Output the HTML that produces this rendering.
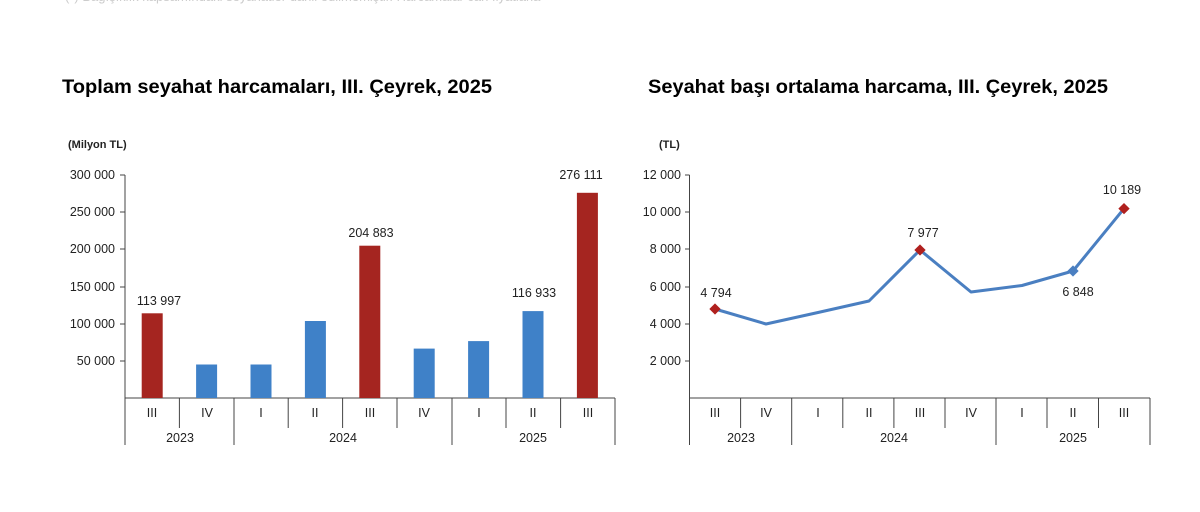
<!DOCTYPE html>
<html><head><meta charset="utf-8"><style>
body{margin:0;background:#fff;width:1200px;height:507px;overflow:hidden;font-family:"Liberation Sans",Arial,sans-serif}
svg text{font-family:"Liberation Sans",Arial,sans-serif}
</style></head><body>
<svg width="1200" height="507" xmlns="http://www.w3.org/2000/svg">
<text x="65" y="1" font-size="13" fill="#ccc">(*) Bağışıklık kapsamındaki seyahatler dahil edilmemiştir. Harcamalar cari fiyatlarla</text>
<text x="62" y="93" font-size="19.5" font-weight="bold" fill="#000" textLength="430" lengthAdjust="spacingAndGlyphs">Toplam seyahat harcamaları, III. Çeyrek, 2025</text>
<text x="648" y="93" font-size="19.5" font-weight="bold" fill="#000" textLength="460" lengthAdjust="spacingAndGlyphs">Seyahat başı ortalama harcama, III. Çeyrek, 2025</text>
<!-- left chart -->
<text x="68" y="148" font-size="11" font-weight="bold" fill="#222">(Milyon TL)</text>
<g font-size="12.5" fill="#222" text-anchor="end">
<text x="115" y="179">300 000</text><text x="115" y="216">250 000</text><text x="115" y="253">200 000</text>
<text x="115" y="291">150 000</text><text x="115" y="328">100 000</text><text x="115" y="365">50 000</text>
</g>
<g stroke="#444" stroke-width="1">
<line x1="125" y1="175" x2="125" y2="445"/><line x1="125" y1="398" x2="615" y2="398"/>
<line x1="120" y1="175" x2="125" y2="175"/><line x1="120" y1="212" x2="125" y2="212"/><line x1="120" y1="249" x2="125" y2="249"/>
<line x1="120" y1="287" x2="125" y2="287"/><line x1="120" y1="324" x2="125" y2="324"/><line x1="120" y1="361" x2="125" y2="361"/>
<line x1="179.4" y1="398" x2="179.4" y2="428"/><line x1="234" y1="398" x2="234" y2="445"/>
<line x1="288.2" y1="398" x2="288.2" y2="428"/><line x1="342.6" y1="398" x2="342.6" y2="428"/>
<line x1="397" y1="398" x2="397" y2="428"/><line x1="452" y1="398" x2="452" y2="445"/>
<line x1="506" y1="398" x2="506" y2="428"/><line x1="560.6" y1="398" x2="560.6" y2="428"/>
<line x1="615" y1="398" x2="615" y2="445"/>
</g>
<g>
<rect x="141.7" y="313.3" width="21" height="84.7" fill="#a52520"/>
<rect x="196.1" y="364.5" width="21" height="33.5" fill="#3f81c8"/>
<rect x="250.5" y="364.5" width="21" height="33.5" fill="#3f81c8"/>
<rect x="304.9" y="321" width="21" height="77" fill="#3f81c8"/>
<rect x="359.3" y="245.7" width="21" height="152.3" fill="#a52520"/>
<rect x="413.7" y="348.6" width="21" height="49.4" fill="#3f81c8"/>
<rect x="468.1" y="341.1" width="21" height="56.9" fill="#3f81c8"/>
<rect x="522.5" y="311.1" width="21" height="86.9" fill="#3f81c8"/>
<rect x="576.9" y="192.8" width="21" height="205.2" fill="#a52520"/>
</g>
<g font-size="12.5" fill="#222" text-anchor="middle">
<text x="159" y="305">113 997</text><text x="371" y="237">204 883</text>
<text x="534" y="297">116 933</text><text x="581" y="179">276 111</text>
<text x="152" y="417">III</text><text x="207" y="417">IV</text><text x="261" y="417">I</text><text x="315" y="417">II</text>
<text x="370" y="417">III</text><text x="424" y="417">IV</text><text x="479" y="417">I</text><text x="533" y="417">II</text><text x="588" y="417">III</text>
<text x="180" y="442">2023</text><text x="343" y="442">2024</text><text x="533" y="442">2025</text>
</g>
<!-- right chart -->
<text x="659" y="148" font-size="11" font-weight="bold" fill="#222">(TL)</text>
<g font-size="12.5" fill="#222" text-anchor="end">
<text x="681" y="179">12 000</text><text x="681" y="216">10 000</text><text x="681" y="253">8 000</text>
<text x="681" y="291">6 000</text><text x="681" y="328">4 000</text><text x="681" y="365">2 000</text>
</g>
<g stroke="#444" stroke-width="1">
<line x1="689.5" y1="175" x2="689.5" y2="445"/><line x1="689.5" y1="398" x2="1150" y2="398"/>
<line x1="685" y1="175" x2="689.5" y2="175"/><line x1="685" y1="212" x2="689.5" y2="212"/><line x1="685" y1="249" x2="689.5" y2="249"/>
<line x1="685" y1="287" x2="689.5" y2="287"/><line x1="685" y1="324" x2="689.5" y2="324"/><line x1="685" y1="361" x2="689.5" y2="361"/>
<line x1="740.6" y1="398" x2="740.6" y2="428"/><line x1="791.7" y1="398" x2="791.7" y2="445"/>
<line x1="842.8" y1="398" x2="842.8" y2="428"/><line x1="893.9" y1="398" x2="893.9" y2="428"/>
<line x1="945" y1="398" x2="945" y2="428"/><line x1="996" y1="398" x2="996" y2="445"/>
<line x1="1047" y1="398" x2="1047" y2="428"/><line x1="1098.5" y1="398" x2="1098.5" y2="428"/>
<line x1="1150" y1="398" x2="1150" y2="445"/>
</g>
<polyline fill="none" stroke="#4a7fc1" stroke-width="3" stroke-linejoin="round" points="715,309 766,324 818,312.5 869,301 920,250 971,292 1022,285.5 1073,271 1124,208.6"/>
<g fill="#b0201e">
<rect x="711" y="305" width="8" height="8" transform="rotate(45 715 309)"/>
<rect x="916" y="246" width="8" height="8" transform="rotate(45 920 250)"/>
<rect x="1120" y="204.6" width="8" height="8" transform="rotate(45 1124 208.6)"/>
</g>
<rect x="1069" y="267" width="8" height="8" fill="#4a7fc1" transform="rotate(45 1073 271)"/>
<g font-size="12.5" fill="#222" text-anchor="middle">
<text x="716" y="297">4 794</text><text x="923" y="237">7 977</text>
<text x="1078" y="296">6 848</text><text x="1122" y="194">10 189</text>
<text x="715" y="417">III</text><text x="766" y="417">IV</text><text x="818" y="417">I</text><text x="869" y="417">II</text>
<text x="920" y="417">III</text><text x="971" y="417">IV</text><text x="1022" y="417">I</text><text x="1073" y="417">II</text><text x="1124" y="417">III</text>
<text x="741" y="442">2023</text><text x="894" y="442">2024</text><text x="1073" y="442">2025</text>
</g>
</svg>
</body></html>
